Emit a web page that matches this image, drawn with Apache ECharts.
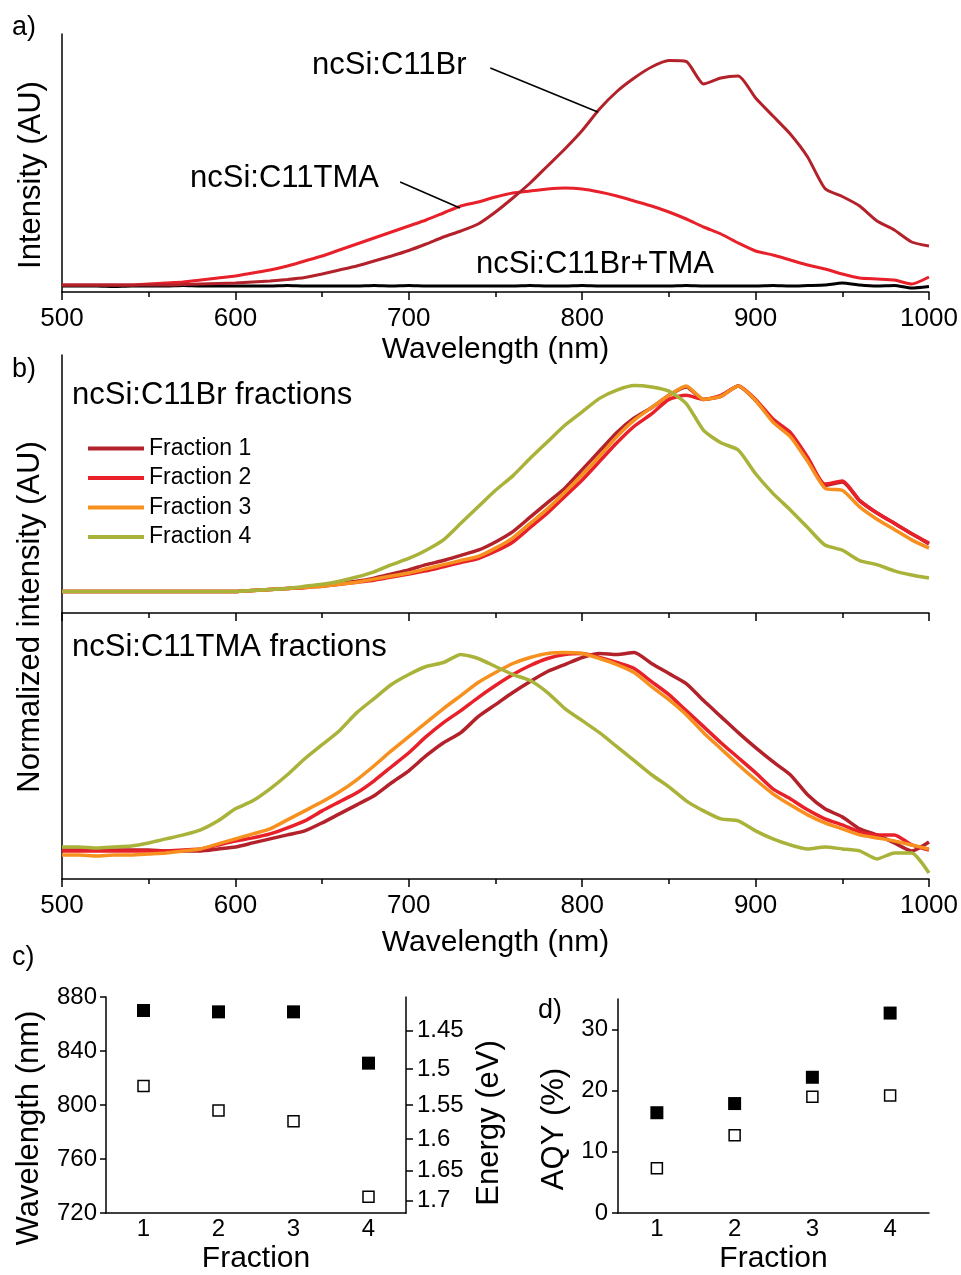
<!DOCTYPE html>
<html>
<head>
<meta charset="utf-8">
<script src="https://cdn.jsdelivr.net/npm/echarts@6.0.0/dist/echarts.min.js"></script>
<style>
html, body { margin: 0; padding: 0; background: #fff; }
#chart { width: 961px; height: 1275px; }
</style>
</head>
<body>
<div id="chart"></div>
<script>
const FONT = '"Liberation Sans", Arial, sans-serif';

// wavelength grid of all spectra (nm)
const wavelengths = [500,510,520,530,540,550,560,570,580,590,600,610,620,630,640,650,660,670,680,690,
    700,710,720,730,740,750,760,770,780,790,800,810,820,830,840,850,860,870,880,890,
    900,910,920,930,940,950,960,970,980,990,1000];

// panel a - PL intensity (AU)
const c11br = [7,7,7,7,7,7,7,7.5,8,8.5, 9,10,11,12.5,14.5,18,22,26,31,36,
    41.5,48,55,61,68,80,94,109,126,143, 161.5,183,200.5,214,225,231.5,230.5,208,214,216,
    194,176,158,135,103.5,95.5,86,71,62,50, 46];
const c11tma = [7,7,7,7,7,8,9,10,12,14, 16,19,22,26,31,36,42,48,54,60,
    66,72,79,86,90,95,99,101,103,104, 103,100,96,91,86,80,73,65,58,49,
    41,37,32,27,23,18,14,13,12,8, 15];
const c11brTma = [6,6,6,5.5,6,6,6,6.5,6,6, 6,6,6,6.5,6,6,6,6,6.5,6,
    6.5,6,6,6,6,6,6,6.5,6,6, 6.5,6,6,6,6,6,6.5,6,6,6,
    6,6.5,6,6.5,7,9,7,6,6.5,4, 5.5];

// panel b - normalized intensity (% of peak), ncSi:C11Br fractions
const brF1 = [0,0,0,0,0,0,0,0,0,0, 0,0.5,1,1.5,2,3,4,5,6.5,8.5,
    10.5,13,15,17.5,20,24,29,36,43,50, 59,68,77,84,89,95,99,93,94.5,99.5,
    92.5,83,76.5,64.5,51.5,53,44,38,33,28, 23];
const brF2 = [0,0,0,0,0,0,0,0,0,0, 0,0.5,1,1.5,2,2.5,3.5,4.5,5.5,7,
    8.5,10,12,14,16,19.5,24,31,38,46, 54,63,72,80,86,93,95,93,95,99.5,
    93,83.5,77,65,52,53.5,44,38,33,28, 23.5];
const brF3 = [0,0,0,0,0,0,0,0,0,0, 0,0.5,1,1.5,2,2.5,3.5,4.5,6,7.5,
    9,11,13,15,17,21,26,33,40,48, 56.5,65.5,75,83,89,95,99.5,93,94.5,99.5,
    92.5,82,75,63,50,49,41,35,30,25, 21];
const brF4 = [0,0,0,0,0,0,0,0,0,0, 0,0.5,1,1.5,2.5,3.5,5,7,9.5,13,
    16,20,25,33,41,49,56,64.5,72.5,80.5, 87,93.5,97.5,99.7,99,97,91,78,72,68.5,
    57,47.5,39.5,31,22.5,20,15,13,10,8, 6.5];

// panel b - normalized intensity (% of peak), ncSi:C11TMA fractions
const tmaF1 = [1.5,1.5,1.5,1.5,1.5,1.5,1,1,1,2, 3,5,7,9,11,15,19.5,24,28.5,35,
    41,48.5,55,60,68,74,80,85.5,90.5,94, 97.5,99.5,99,100,94.5,89.5,84.5,76,68,60,
    52.5,45.5,39,29,22,18,12,9,5,1, 5.5];
const tmaF2 = [1,1,1,1,1,1,1,1.5,2,4, 6,7.5,9.5,12.5,16,21,25.5,30,36,43,
    50,58,65,71,77.5,83.5,89,93.5,97,99, 99.5,97.5,95,92,85.5,79,71,63,55,47.5,
    40,32,27,21.5,17,14,10.5,9,9,4, 1.5];
const tmaF3 = [-1,-1,-1.5,-1,-1,-0.5,0,1,2,4.5, 7,9.5,12,16.5,21,25.5,30.5,36.5,43.5,51,
    58,65,72,78.5,85,90,94.5,97.5,99.5,100, 99.5,97,94,90,83,76.5,69,60,52,44,
    36.5,29.5,24,19,15,12,9,7.5,6,4, 2];
const tmaF4 = [3,3,2.5,3,3.5,5,7,9,11.5,16, 22,26,32,39,47,54,61,70,77,84,
    89,93,95,99,97,93,89,86,80,72, 66,60,53,46,39,33,26,21,17,16,
    11,7,4,2,3,2,1,-3,0,0, -10];

// panel c - PL peak wavelength (nm)
const fractions = ['1', '2', '3', '4'];
const peakBr = [870, 869, 869, 831];
const peakTma = [814, 796, 788, 732];
const energyTicks = [1.45, 1.5, 1.55, 1.6, 1.65, 1.7];
const HC = 1239.84; // eV*nm

// panel d - absolute quantum yield (%)
const aqyBr = [16.4, 17.9, 22.2, 32.7];
const aqyTma = [7.3, 12.7, 19.0, 19.2];
const aqyTicks = [0, 10, 20, 30];

const fracNames = ['Fraction 1', 'Fraction 2', 'Fraction 3', 'Fraction 4'];
const fracColors = ['#b3222a', '#e8202a', '#f7901e', '#a9b239'];

const black = { color: '#000', width: 1.5 };

let spectrum = (name, values, color, width, idx) => ({
    type: 'line',
    name: name,
    xAxisIndex: idx,
    yAxisIndex: idx,
    data: wavelengths.map((w, i) => [w, values[i]]),
    symbol: 'none',
    showSymbol: false,
    smooth: 0.2,
    lineStyle: { color: color, width: width },
    itemStyle: { color: color },
    emphasis: { disabled: true }
});

let wlAxis = (gi, withLabels, nameGap) => ({
    type: 'value',
    gridIndex: gi,
    min: 500,
    max: 1000,
    interval: 100,
    axisLine: { show: true, onZero: false, lineStyle: black },
    axisTick: { show: true, length: 8, lineStyle: black },
    minorTick: { show: true, splitNumber: 2, length: 5, lineStyle: black },
    splitLine: { show: false },
    minorSplitLine: { show: false },
    axisLabel: {
        show: withLabels, color: '#000', fontSize: 26, fontFamily: FONT, margin: 14,
        formatter: v => String(v)
    },
    name: withLabels ? 'Wavelength (nm)' : '',
    nameLocation: 'middle',
    nameGap: nameGap,
    nameMoveOverlap: false,
    nameTextStyle: { color: '#000', fontSize: 30, fontFamily: FONT }
});

let intensityAxis = (gi, min, max) => ({
    type: 'value',
    gridIndex: gi,
    min: min,
    max: max,
    axisLine: { show: true, onZero: false, lineStyle: black },
    axisTick: { show: false },
    axisLabel: { show: false },
    splitLine: { show: false }
});

let fractionAxis = (gi) => ({
    type: 'category',
    gridIndex: gi,
    data: fractions,
    boundaryGap: true,
    axisLine: { show: true, onZero: false, lineStyle: black },
    axisTick: { show: false },
    axisLabel: { color: '#000', fontSize: 24, fontFamily: FONT, margin: 4 },
    name: 'Fraction',
    nameLocation: 'middle',
    nameGap: 31,
    nameMoveOverlap: false,
    nameTextStyle: { color: '#000', fontSize: 30, fontFamily: FONT }
});

let squares = (data, filled, xi, yi) => ({
    type: 'scatter',
    xAxisIndex: xi,
    yAxisIndex: yi,
    data: data,
    symbol: 'rect',
    symbolSize: filled ? 13 : 11,
    itemStyle: filled
        ? { color: '#000', opacity: 1 }
        : { color: '#fff', borderColor: '#000', borderWidth: 1.5, opacity: 1 },
    emphasis: { disabled: true }
});

let txt = (text, x, y, size) => ({
    type: 'text', x: x, y: y, silent: true,
    style: {
        text: text, fill: '#000', font: size + 'px ' + FONT,
        textAlign: 'left', align: 'left', textVerticalAlign: 'middle', verticalAlign: 'middle'
    }
});

let vtxt = (text, x, y, size) => ({
    type: 'text', x: x, y: y, rotation: Math.PI / 2, silent: true,
    style: {
        text: text, fill: '#000', font: size + 'px ' + FONT,
        textAlign: 'center', align: 'center', textVerticalAlign: 'middle', verticalAlign: 'middle'
    }
});

// leader lines of panel a, in data coordinates
const leaderBr = [[747, 224], [809, 180]];
const leaderTma = [[695, 110], [729.5, 84]];

let brSeries = spectrum('ncSi:C11Br', c11br, '#b3222a', 3, 0);
brSeries.markLine = {
    silent: true,
    symbol: ['none', 'none'],
    label: { show: false },
    lineStyle: { color: '#000', width: 1.5, type: 'solid' },
    emphasis: { disabled: true },
    data: [
        [{ coord: leaderBr[0] }, { coord: leaderBr[1] }],
        [{ coord: leaderTma[0] }, { coord: leaderTma[1] }]
    ]
};

let series = [
    spectrum('ncSi:C11Br+TMA', c11brTma, '#000', 3, 0),
    spectrum('ncSi:C11TMA', c11tma, '#e8202a', 3, 0),
    brSeries
];
[brF1, brF2, brF3, brF4].forEach((d, i) => series.push(spectrum(fracNames[i], d, fracColors[i], 3.5, 1)));
[tmaF1, tmaF2, tmaF3, tmaF4].forEach((d, i) => series.push(spectrum(fracNames[i], d, fracColors[i], 3.5, 2)));
series.push(squares(peakBr, true, 3, 3));
series.push(squares(peakTma, false, 3, 3));
series.push(squares(aqyBr, true, 4, 5));
series.push(squares(aqyTma, false, 4, 5));

let option = {
    animation: false,
    backgroundColor: '#fff',
    textStyle: { fontFamily: FONT },
    grid: [
        { left: 62, top: 34, width: 867, height: 258 },
        { left: 62, top: 355, width: 867, height: 258 },
        { left: 62, top: 613, width: 867, height: 266 },
        { left: 106, top: 997, width: 300, height: 217 },
        { left: 618, top: 999, width: 311, height: 215 }
    ],
    xAxis: [
        wlAxis(0, true, 43),
        wlAxis(1, false, 0),
        wlAxis(2, true, 49),
        fractionAxis(3),
        fractionAxis(4)
    ],
    yAxis: [
        intensityAxis(0, 0, 258),
        intensityAxis(1, -10.4, 114.5),
        intensityAxis(2, -13, 119.7),
        {
            type: 'value', gridIndex: 3, min: 720, max: 880, interval: 40,
            axisLine: { show: true, onZero: false, lineStyle: black },
            axisTick: { show: true, length: 6, lineStyle: black },
            axisLabel: { color: '#000', fontSize: 24, fontFamily: FONT, margin: 9 },
            splitLine: { show: false }
        },
        {
            type: 'value', gridIndex: 3, position: 'right', min: 720, max: 880,
            axisLine: { show: true, onZero: false, lineStyle: black },
            axisTick: { show: true, length: 7, lineStyle: black, customValues: energyTicks.map(e => HC / e) },
            axisLabel: {
                color: '#000', fontSize: 24, fontFamily: FONT, margin: 11,
                customValues: energyTicks.map(e => HC / e),
                formatter: v => String(Math.round(HC / v * 100) / 100)
            },
            splitLine: { show: false }
        },
        {
            type: 'value', gridIndex: 4, min: 0, max: 35,
            axisLine: { show: true, onZero: false, lineStyle: black },
            axisTick: { show: true, length: 6, lineStyle: black, customValues: aqyTicks },
            axisLabel: { color: '#000', fontSize: 24, fontFamily: FONT, margin: 10, customValues: aqyTicks },
            splitLine: { show: false }
        }
    ],
    legend: {
        data: fracNames.map(n => ({ name: n, icon: 'rect' })),
        orient: 'vertical',
        left: 88,
        top: 437,
        padding: 0,
        itemWidth: 56,
        itemHeight: 4,
        itemGap: 6.5,
        selectedMode: false,
        textStyle: { color: '#000', fontSize: 23, fontFamily: FONT }
    },
    graphic: [
        txt('a)', 12, 28, 27),
        txt('b)', 12, 370, 27),
        txt('c)', 12, 958, 27),
        txt('d)', 538, 1011, 27),
        txt('ncSi:C11Br', 312, 65, 31),
        txt('ncSi:C11TMA', 190, 178, 31),
        txt('ncSi:C11Br+TMA', 476, 264, 31),
        txt('ncSi:C11Br fractions', 72, 395, 31),
        txt('ncSi:C11TMA fractions', 72, 647, 31),
        vtxt('Intensity (AU)', 31, 175, 31),
        vtxt('Normalized intensity (AU)', 30, 617, 31),
        vtxt('Wavelength (nm)', 29, 1128, 31),
        vtxt('Energy (eV)', 489, 1123, 31),
        vtxt('AQY (%)', 554, 1129, 31)
    ],
    series: series
};

let chart = echarts.init(document.getElementById('chart'), null, { renderer: 'canvas' });
chart.setOption(option);
</script>
</body>
</html>
